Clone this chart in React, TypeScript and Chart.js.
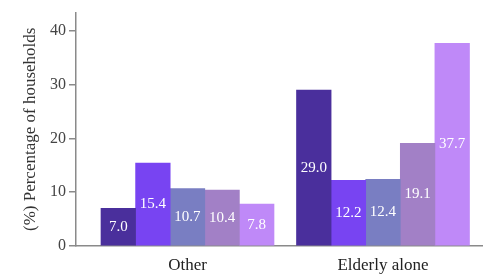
import React, { useEffect, useRef } from "react";
import { Chart, registerables } from "chart.js";

Chart.register(...registerables);

const categories = ["Other", "Elderly alone"];
const seriesNames = ["Series 1", "Series 2", "Series 3", "Series 4", "Series 5"];
const series1 = [7.0, 29.0];
const series2 = [15.4, 12.2];
const series3 = [10.7, 12.4];
const series4 = [10.4, 19.1];
const series5 = [7.8, 37.7];
const allSeries = [series1, series2, series3, series4, series5];
const colors = ["#4a2f9c", "#7844f2", "#797ec2", "#a280c6", "#bf89f8"];
const yTicks = [0, 10, 20, 30, 40];
const yTitle = "(%) Percentage of households";

const SERIF = "'Liberation Serif', 'Times New Roman', serif";

const valueLabels = {
  id: "valueLabels",
  afterDatasetsDraw(chart: any) {
    const ctx = chart.ctx;
    ctx.save();
    ctx.fillStyle = "#ffffff";
    ctx.font = `15px ${SERIF}`;
    ctx.textAlign = "center";
    ctx.textBaseline = "middle";
    chart.data.datasets.forEach((ds: any, di: number) => {
      const meta = chart.getDatasetMeta(di);
      meta.data.forEach((el: any, i: number) => {
        const p = el.getProps(["x", "y", "base"], true);
        ctx.fillText(allSeries[di][i].toFixed(1), p.x, (p.y + p.base) / 2);
      });
    });
    ctx.restore();
  },
};

export default function App() {
  const ref = useRef<HTMLCanvasElement | null>(null);
  useEffect(() => {
    document.body.style.margin = "0";
    const canvas = ref.current!;
    const chart = new Chart(canvas, {
      type: "bar",
      data: {
        datasets: allSeries.map((s, di) => ({
          label: seriesNames[di],
          data: s.map((v, i) => ({ x: i, y: v })),
          backgroundColor: colors[di],
          borderWidth: 0,
          barThickness: 34.6,
        })),
      },
      options: {
        responsive: false,
        animation: false,
        devicePixelRatio: 1,
        layout: { padding: { top: 5, right: 0, left: 0, bottom: 0 } },
        plugins: { legend: { display: false }, tooltip: { enabled: false } },
        scales: {
          x: {
            type: "linear",
            offset: false,
            min: -0.5703,
            max: 1.5115,
            afterBuildTicks: (scale: any) => {
              scale.ticks = categories.map((_, i) => ({ value: i }));
            },
            afterFit: (scale: any) => {
              scale.height = 30;
            },
            grid: { display: false, drawTicks: false, offset: false },
            border: { display: true, color: "#8a8a8a", width: 1.5 },
            ticks: {
              callback: (v: any) => categories[v] ?? "",
              color: "#222",
              font: { family: SERIF, size: 17 },
              padding: 9,
              maxRotation: 0,
              autoSkip: false,
            },
          },
          y: {
            min: 0,
            max: 43.4,
            afterBuildTicks: (scale: any) => {
              scale.ticks = yTicks.map((v) => ({ value: v }));
            },
            afterFit: (scale: any) => {
              scale.width = 76;
            },
            grid: {
              drawOnChartArea: false,
              drawTicks: true,
              tickLength: 7,
              color: "#8a8a8a",
              lineWidth: 1.5,
            },
            border: { display: true, color: "#8a8a8a", width: 1.5 },
            ticks: {
              color: "#444",
              font: { family: SERIF, size: 16 },
              padding: 3,
            },
            title: {
              display: true,
              text: yTitle,
              color: "#333",
              font: { family: SERIF, size: 17 },
              padding: { top: 20, bottom: 0 },
            },
          },
        },
      },
      plugins: [valueLabels],
    } as any);
    return () => chart.destroy();
  }, []);
  return (
    <div style={{ position: "absolute", left: 0, top: 0, width: 483, height: 276 }}>
      <canvas ref={ref} width={483} height={276} />
    </div>
  );
}
